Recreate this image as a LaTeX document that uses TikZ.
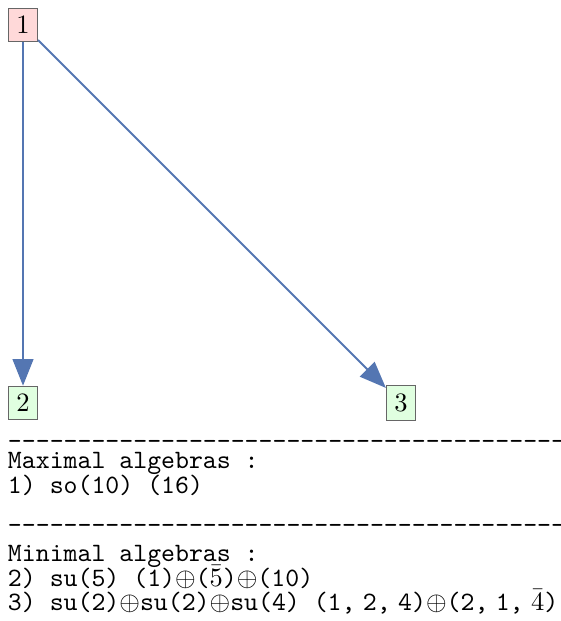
\documentclass[tikz,border=0pt]{standalone}
\usetikzlibrary{arrows.meta}

\definecolor{edgeblue}{RGB}{84,118,178}
\definecolor{topfill}{RGB}{255,217,217}
\definecolor{botfill}{RGB}{224,255,224}

\tikzset{every picture/.style={line width=0.75pt}}
\tikzset{
  algnode/.style={draw=black!60, line width=0.4pt, inner sep=3pt},
  maxnode/.style={algnode, fill=topfill},
  minnode/.style={algnode, fill=botfill},
  subarrow/.style={draw=edgeblue, line width=0.7pt, -{Triangle[length=10pt,width=7.8pt]}},
  listline/.style={anchor=base west, inner sep=0pt, font=\ttfamily}
}
\newcommand{\os}{$\oplus$}

\begin{document}
\begin{tikzpicture}[x=0.377pt,y=0.377pt,yscale=-1]
		\useasboundingbox (0,0) rectangle (560,621);
		\clip (0,0) rectangle (560,621);
		
		%Nodes: algebras
		\node [maxnode] (a1) at (23,25) {1};
		\node [minnode] (a2) at (23,403) {2};
		\node [minnode] (a3) at (401,403) {3};
		
		%Arrows: inclusions
		\draw [subarrow] (a1) -- (a2) ;
		\draw [subarrow] (a1) -- (a3) ;
		
		%Text: list of maximal algebras
		\node [listline] (sep1) at (7,449) {----------------------------------------};
		\node [listline] (maxhead) at (7,468) {Maximal algebras :};
		\node [listline] (max1) at (7,493) {1) so(10) (16)};
		
		%Text: list of minimal algebras
		\node [listline] (sep2) at (7,533) {----------------------------------------};
		\node [listline] (minhead) at (7,561) {Minimal algebras :};
		\node [listline] (min2) at (7,586) {2) su(5) (1)\os($\bar{5}$)\os(10)};
		\node [listline] (min3) at (7,610) {3) su(2)\os su(2)\os su(4) (1,\;2,\;4)\os(2,\;1,\;$\bar{4}$)};
	\end{tikzpicture}
\end{document}
